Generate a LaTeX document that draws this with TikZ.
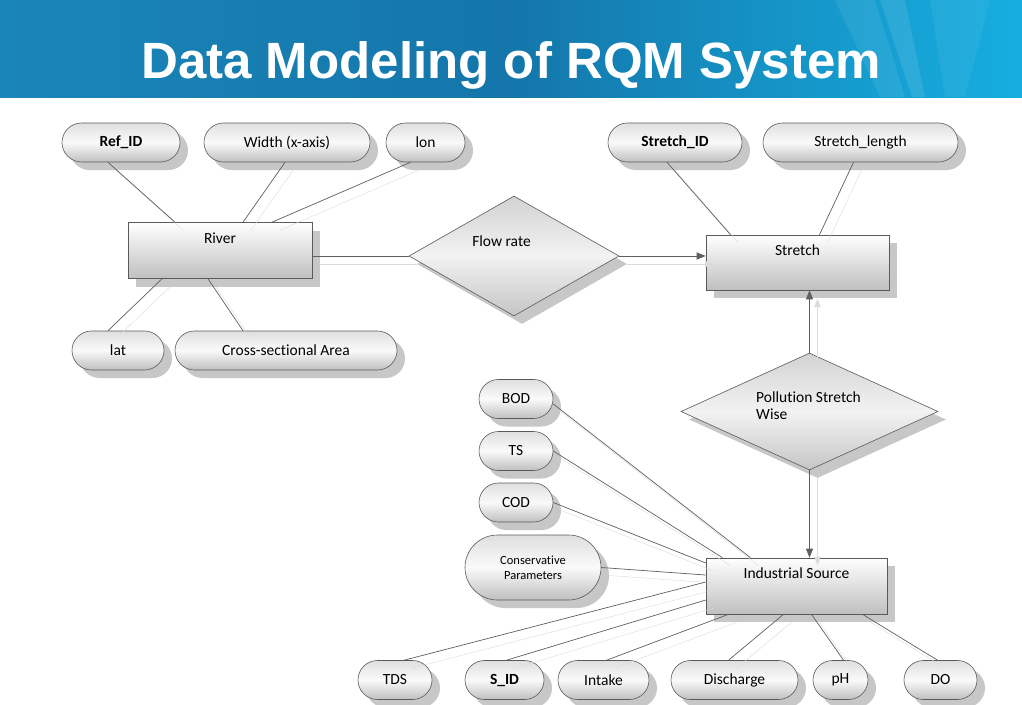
\documentclass[tikz,border=0pt]{standalone}
\usepackage{fontspec}
\setmainfont{Carlito}[Ligatures=NoCommon]
\newfontfamily\titlefont{Liberation Sans}
\usepackage{xcolor}
\usepackage{tikz}
\usetikzlibrary{arrows.meta, shapes.geometric, shapes.misc, shadows}

\definecolor{bannerleft}{RGB}{26,133,185}
\definecolor{bannermid}{RGB}{20,118,170}
\definecolor{bannerright}{RGB}{22,174,224}
\definecolor{edgegray}{RGB}{90,90,90}
\definecolor{linegray}{RGB}{95,95,95}

\tikzset{
  shadowed/.style={drop shadow={shadow xshift=8pt, shadow yshift=-8pt, fill=black!22, opacity=1}},
  attr/.style={rounded rectangle, draw=edgegray, line width=0.6pt, minimum height=39pt,
    inner sep=2pt, top color=gray!25, bottom color=gray!50, middle color=gray!4,
    shadowed, font=\fontsize{15.5}{18}\selectfont},
  keyattr/.style={attr, font=\fontsize{15.5}{18}\selectfont\bfseries},
  entity/.style={rectangle, draw=edgegray, line width=0.6pt, minimum height=56pt,
    top color=white, bottom color=gray!50, text height=10pt, text depth=25pt,
    shadowed, font=\fontsize{15.5}{18}\selectfont},
  rel/.style={diamond, draw=edgegray, line width=0.6pt, inner sep=0pt,
    top color=gray!35, bottom color=gray!45, middle color=gray!10, shadowed,
    font=\fontsize{15.5}{18}\selectfont},
  link/.style={draw=linegray, line width=0.7pt,
    preaction={draw=gray!28, transform canvas={shift={(8pt,-8pt)}}}},
  arr/.style={link, -{Triangle[length=9pt,width=7pt]}},
}

\begin{document}
\begin{tikzpicture}[x=1pt, y=-1pt]
  \useasboundingbox[fill=white] (0,0) rectangle (1022,704);

  % banner
  \shade[left color=bannerleft, right color=bannerright, middle color=bannermid]
    (0,0) rectangle (1022,97);
  \fill[white, opacity=0.08] (835,0) -- (875,0) -- (905,97) -- (880,97) -- cycle;
  \fill[white, opacity=0.10] (880,0) -- (905,0) -- (925,97) -- (912,97) -- cycle;
  \fill[white, opacity=0.06] (930,0) -- (990,0) -- (965,97) -- (945,97) -- cycle;
  \node[text=white, anchor=base, font=\titlefont\bfseries\fontsize{51}{60}\selectfont]
    (title) at (511,78) {Data Modeling of RQM System};

  % river side
  \node[keyattr, minimum width=122pt] (refid) at (121,142.5) {Ref\_ID};
  \node[attr, minimum width=170pt] (width) at (287,142.5) {Width (x-axis)};
  \node[attr, minimum width=83pt] (lon) at (425.5,142.5) {lon};
  \node[entity, minimum width=184pt] (river) at (220,250.5) {River};
  \node[attr, minimum width=96pt] (lat) at (118,350.5) {lat};
  \node[attr, minimum width=226pt] (area) at (286,350.5) {Cross-sectional Area};
  \node[rel, minimum width=210pt, minimum height=120pt,
    label={[xshift=-12.5pt, yshift=15pt, font=\fontsize{15.5}{18}\selectfont]center:Flow rate}]
    (flow) at (514,256) {};

  % stretch side
  \node[keyattr, minimum width=138pt] (stretchid) at (675,142.5) {Stretch\_ID};
  \node[attr, minimum width=199pt] (stretchlen) at (860.5,142.5) {Stretch\_length};
  \node[entity, minimum width=183pt, minimum height=55pt] (stretch) at (797.5,262.5) {Stretch};
  \node[rel, minimum width=257pt, minimum height=117pt,
    label={[xshift=-1pt, yshift=6pt, align=left, font=\fontsize{15.5}{17}\selectfont]center:Pollution Stretch\\Wise}]
    (pollution) at (809.5,411.5) {};

  % industrial source
  \node[attr, minimum width=78pt] (bod) at (516,399) {BOD};
  \node[attr, minimum width=78pt] (ts) at (516,451) {TS};
  \node[attr, minimum width=78pt] (cod) at (516,502.5) {COD};
  \node[attr, minimum width=140pt, minimum height=65pt, align=center,
    font=\fontsize{12.5}{15}\selectfont] (cons) at (533,567.5) {Conservative\\Parameters};
  \node[entity, minimum width=181pt] (industrial) at (796.5,586) {Industrial Source};
  \node[attr, minimum width=78pt] (tds) at (395,680) {TDS};
  \node[keyattr, minimum width=83pt] (sid) at (504.5,680) {S\_ID};
  \node[attr, minimum width=95pt] (intake) at (603.5,680) {Intake};
  \node[attr, minimum width=131pt] (discharge) at (734.5,680) {Discharge};
  \node[attr, minimum width=59pt] (ph) at (840.5,680) {pH};
  \node[attr, minimum width=77pt] (do) at (940.5,680) {DO};

  % connectors
  \draw[link] ([xshift=-13pt]refid.south) -- ([xshift=-45pt]river.north);
  \draw[link] ([xshift=-2pt]width.south) -- ([xshift=23pt]river.north);
  \draw[link] ([xshift=-15pt]lon.south) -- ([xshift=52pt]river.north);
  \draw[link] ([xshift=-58pt]river.south) -- ([xshift=-10pt]lat.north);
  \draw[link] ([xshift=-12pt]river.south) -- ([xshift=-43pt]area.north);
  \draw[link] (river.east |- flow.west) -- (flow.west);
  \draw[arr] (flow.east) -- (flow.east -| stretch.west);
  \draw[link] ([xshift=-8pt]stretchid.south) -- ([xshift=-67pt]stretch.north);
  \draw[link] ([xshift=-7pt]stretchlen.south) -- ([xshift=22pt]stretch.north);
  \draw[arr] (pollution.north) -- (pollution.north |- stretch.south);
  \draw[arr] (pollution.south) -- (pollution.south |- industrial.north);
  \draw[link] ([yshift=-5pt]bod.east) -- ([xshift=-46pt]industrial.north);
  \draw[link] (ts.east) -- ([xshift=-74pt]industrial.north);
  \draw[link] (cod.east) -- ([yshift=23pt]industrial.west);
  \draw[link] (cons.east) -- ([yshift=11pt]industrial.west);
  \draw[link] ([xshift=9pt]tds.north) -- ([yshift=4pt]industrial.west);
  \draw[link] ([xshift=2pt]sid.north) -- ([yshift=-14pt]industrial.west);
  \draw[link] ([xshift=3pt]intake.north) -- ([xshift=-68pt]industrial.south);
  \draw[link] ([xshift=-6pt]discharge.north) -- ([xshift=-13pt]industrial.south);
  \draw[link] ([xshift=3pt]ph.north) -- ([xshift=15pt]industrial.south);
  \draw[link] ([xshift=-3pt]do.north) -- ([xshift=66pt]industrial.south);
\end{tikzpicture}
\end{document}
